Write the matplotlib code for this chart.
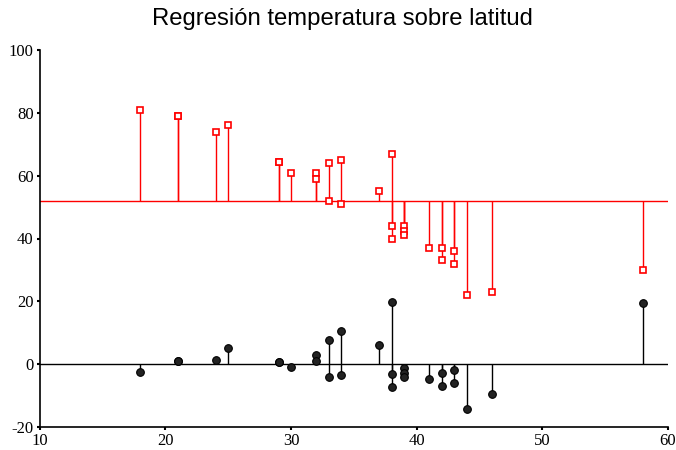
import numpy as np
import matplotlib.pyplot as plt

plt.rcParams['axes.unicode_minus'] = False

# latitud y temperatura observada
latitud = [18, 21, 21, 24, 25, 29, 29, 30, 32, 32, 33, 33, 34, 34, 37,
           38, 38, 38, 39, 39, 39, 41, 42, 42, 43, 43, 44, 46, 58]
temperatura = [81, 79, 79, 74, 76, 64.3, 64.3, 61, 61, 59, 64, 52, 65, 51, 55,
               67, 44, 40, 44, 42.5, 41, 37, 37, 33, 36, 32, 22, 23, 30]
# residuos de la regresion
residuo = [-2.5, 1, 1, 1.4, 5.3, 0.8, 0.8, -0.8, 3, 1, 7.8, -4.2, 10.7, -3.3, 6.1,
           19.9, -3.1, -7.1, -1.1, -2.7, -4.2, -4.6, -2.8, -6.8, -1.9, -5.9, -14.1, -9.5, 19.4]
media_temp = 52

fig = plt.figure(figsize=(6.76, 4.5), dpi=100)
ax = fig.add_axes([0.059, 0.051, 0.929, 0.838])

# linea base y tallos
ax.axhline(media_temp, color='red', lw=1)
ax.axhline(0, color='black', lw=1)
ax.vlines(latitud, media_temp, temperatura, color='red', lw=1)
ax.vlines(latitud, 0, residuo, color='black', lw=1)

ax.plot(latitud, temperatura, 's', ms=4.5, mfc='white', mec='red', mew=1.2, ls='none')
ax.plot(latitud, residuo, 'o', ms=5.5, mfc='#222222', mec='black', mew=0.8, ls='none')

ax.set_xlim(10, 60)
ax.set_ylim(-20, 100)
ax.set_xticks(np.arange(10, 61, 10))
ax.set_yticks(np.arange(-20, 101, 20))
for s in ['top', 'right']:
    ax.spines[s].set_visible(False)
for s in ['left', 'bottom']:
    ax.spines[s].set_linewidth(1.2)
ax.tick_params(length=2.5, width=1.5, labelsize=12, pad=2)
for lbl in ax.get_xticklabels() + ax.get_yticklabels():
    lbl.set_family('Liberation Serif')

fig.suptitle('Regresión temperatura sobre latitud', y=0.982, x=0.507,
             fontsize=17.2, family='Liberation Sans')

plt.savefig('out.png', dpi=100)
